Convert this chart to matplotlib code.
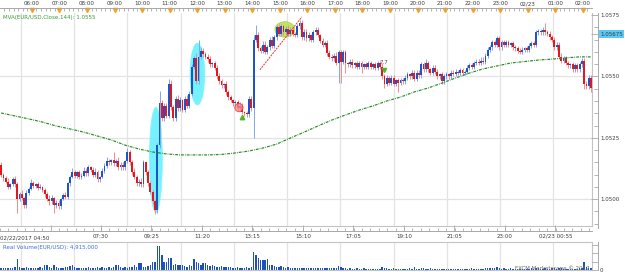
import numpy as np
import matplotlib
matplotlib.use("Agg")
import matplotlib.pyplot as plt
from matplotlib.patches import Ellipse
from matplotlib.lines import Line2D

# ---------------- data (prices in pips above 1.0500) ----------------
BASE = 1.0500
PIP = 0.0001
open0 = 14.0
close_pips = [
    10, 8.5, 7, 5, 6, 8, 6, 0, 2, 0.5,
    -2.5, 2.5, 4, 6.5, 5.5, 6, 4.5, 5, 3.7, 2,
    0, -1, 0.5, -2.5, -1.5, -3, 0, 1.5, 1, 6.5,
    9, 11, 9.5, 11, 9, 9.5, 11.5, 10.5, 13, 12,
    10, 11, 8, 9, 11.5, 13.5, 15.5, 15, 16, 14.5,
    15.5, 13, 14, 13, 15.5, 19, 15, 11, 9, 6.5,
    7, 6, 15, 11, 6.5, 3, -1, -4.5, 22, 39,
    33, 38, 34, 47, 37.5, 33, 41, 37, 40.5, 36.5,
    41, 38, 43, 54, 57.5, 48, 58, 60.5, 59, 58,
    57, 55, 55.5, 53.5, 50, 48, 46.5, 47, 43.5, 41.5,
    40.5, 39, 39.5, 37, 38, 35.5, 35, 34.5, 41, 37,
    65, 67, 61.5, 60.5, 63, 60, 62, 65, 62.5, 66,
    70, 67.5, 70.5, 68, 69.5, 67.5, 69, 67.5, 67, 70.5,
    72, 66, 68, 65.5, 67, 65, 68, 69, 67, 64.5,
    63, 63.5, 59.5, 58, 57.5, 58.5, 55.5, 60, 56, 60,
    55.5, 55, 56, 54.5, 55.5, 54, 55.5, 54, 55, 54,
    55.5, 54, 55, 53.5, 55.5, 54, 50, 47, 49.5, 47.5,
    49.5, 47, 48.5, 47.5, 48.5, 48, 49.5, 51, 50, 51.5,
    49, 51.5, 50.5, 55, 53, 55.5, 53, 51.5, 53.5, 52,
    50, 51, 48, 50, 51, 50, 51.5, 51, 52, 51.5,
    52.5, 51.5, 52, 53.5, 54.5, 54, 55.5, 56, 55.5, 56.5,
    56, 58.5, 61, 62, 64, 63, 65.5, 62, 64, 63,
    64, 63, 63.5, 62, 61.5, 60.5, 60, 61, 61.5, 61,
    62.5, 63.5, 63, 68, 68.5, 68, 69, 68, 67.5, 66,
    65, 62, 63, 58, 56.5, 57.5, 55.5, 54.5, 55, 53,
    54.5, 53, 55, 56.5, 47, 46, 49.5, 45.5,
]
up_wick = [
    1, 0.5, 1, 1.5, 0.5, 1, 1.5, 1, 1, 1.5,
    0.5, 1, 1, 1.5, 1, 0.5, 1, 1, 0.5, 1,
    1, 1.5, 1, 0.5, 1, 1, 0.5, 1, 1.5, 0.5,
    1, 1.5, 1, 0.5, 1, 1, 1.5, 1, 1, 0.5,
    1, 1.5, 1, 0.5, 1, 1, 1.5, 1, 0.5, 3,
    1, 1.5, 1, 1, 0.5, 2, 1, 1, 1.5, 1,
    1, 1.5, 1, 0.5, 1, 1, 0.5, 1, 1, 5,
    1.5, 1, 1, 2, 1.5, 1, 1, 1.5, 1, 0.5,
    1, 1.5, 1, 1, 1, 2, 7, 1.5, 1, 1,
    1, 1.5, 0.5, 1, 1, 1.5, 1, 0.5, 1, 1,
    1, 0.5, 1, 1, 1.5, 1, 0.5, 1, 1, 1,
    2, 4, 1, 1, 1.5, 1.5, 1, 1, 1.5, 1,
    1, 1.5, 1, 0.5, 1, 1.5, 1, 1, 0.5, 1,
    1, 1, 1.5, 1.5, 1, 0.5, 1, 1, 1, 0.5,
    1, 1, 1.5, 1.5, 1, 1, 1.5, 1, 1, 1,
    1, 0.5, 1, 1, 0.5, 1, 1, 1, 0.5, 1,
    1, 1, 0.5, 1, 1, 1, 1.5, 1, 1, 0.5,
    1, 1, 0.5, 1, 1, 1, 1, 1, 0.5, 1,
    1, 1, 1, 1, 1, 1.5, 1, 0.5, 1, 1,
    1, 0.5, 1, 1, 1, 0.5, 1, 1, 1, 0.5,
    1, 1, 0.5, 1, 1, 1, 1, 1, 1, 1.5,
    1.5, 1, 1, 1, 1, 1, 1, 1, 1, 1,
    1, 1, 0.5, 1, 1, 1, 1, 1, 0.5, 1,
    1, 1, 1, 1, 1, 1, 1, 3, 1, 1,
    1, 1, 1, 1, 1.5, 1, 1, 1, 0.5, 1,
    1, 1, 1, 1, 1, 1, 1, 1,
]
dn_wick = [
    1, 1, 0.5, 1, 1, 0.5, 1, 5.7, 1, 1,
    1, 1.2, 1, 0.5, 1, 1, 1, 0.5, 1, 1,
    1, 1.5, 1, 3.2, 1, 1, 1, 0.5, 1, 1,
    1, 0.5, 1, 1, 1, 1, 0.5, 1, 1, 1,
    1, 1, 1, 1, 0.5, 1, 1, 1, 1, 1,
    1, 1, 1, 1, 1, 1, 1, 1, 1, 1,
    1, 1, 1, 1, 1, 1, 1, 1.5, 1, 1,
    1, 1, 1, 1, 1, 1, 1, 1, 1, 1,
    1, 1, 1, 1, 1, 1, 1, 1, 1, 1,
    1, 1, 1, 1, 1, 1, 1, 1, 1, 1,
    1, 1, 1, 1, 1, 1, 1, 1, 1, 1,
    12, 1, 1, 1, 1, 1, 1, 1, 1, 1,
    1, 1, 1, 1, 1, 1, 1, 1, 1, 1,
    1, 1, 1, 1, 1, 1, 1, 1, 1, 1,
    1, 1, 1, 1, 1, 1, 1, 8.2, 8.5, 1,
    4, 1, 1, 1, 1, 1, 1, 2.5, 1, 1,
    1, 1, 1, 1, 1, 1, 1, 1.7, 1, 1,
    1, 1, 1, 3.8, 1, 1, 1, 1, 1, 1,
    1, 1, 1, 1, 1, 1, 1, 1, 1, 1,
    1, 1, 1, 1, 1, 1, 1, 1, 1, 1,
    1, 1, 1, 1, 1, 1, 1, 1, 1, 1,
    1, 1, 1, 1, 1, 1, 1, 1, 1, 1,
    1, 1, 1, 1, 1, 1, 1, 1, 1, 1,
    1, 1, 1, 1, 1, 1, 1, 1, 1, 1,
    1, 1, 1, 1, 1, 1, 1, 1, 1, 1,
    1, 1, 1, 1, 2, 1, 1, 2,
]
volume_m = [
    1.2, 1.2, 1.5, 1.2, 1.2, 1.5, 1.8, 6.6, 1.8, 1.5,
    1.2, 1.8, 1.5, 1.2, 1.2, 1.5, 1.2, 1.8, 1.5, 3.0,
    3.0, 1.8, 1.5, 3.0, 1.8, 1.2, 1.2, 1.5, 1.8, 1.8,
    2.4, 3.0, 1.8, 1.2, 1.5, 1.2, 1.2, 1.5, 1.8, 1.2,
    1.5, 1.2, 1.8, 1.5, 1.8, 1.5, 1.2, 1.8, 1.5, 1.8,
    3.0, 3.0, 1.8, 1.5, 1.8, 1.5, 1.8, 1.8, 3.0, 1.8,
    4.2, 4.2, 1.8, 1.8, 2.4, 3.0, 4.8, 4.8, 14.4, 14.4,
    9.0, 4.8, 4.8, 7.2, 7.2, 3.0, 3.6, 3.0, 3.0, 3.0,
    2.4, 1.8, 3.0, 2.4, 6.6, 4.8, 4.2, 3.0, 4.2, 4.2,
    3.0, 2.4, 3.0, 2.4, 1.8, 1.8, 2.4, 1.8, 1.8, 1.8,
    1.8, 1.2, 1.2, 1.8, 1.2, 1.5, 1.2, 1.8, 1.5, 1.8,
    10.8, 9.0, 7.2, 6.0, 6.0, 6.0, 6.6, 3.0, 3.0, 2.4,
    1.8, 1.8, 2.4, 1.8, 1.5, 1.8, 1.2, 1.5, 1.2, 1.5,
    1.5, 1.2, 1.5, 1.2, 1.5, 1.2, 1.2, 1.5, 1.2, 1.2,
    1.2, 1.5, 1.2, 1.2, 1.2, 1.5, 1.2, 2.4, 1.8, 1.5,
    1.2, 0.9, 1.2, 0.9, 0.9, 1.2, 0.9, 0.9, 1.2, 0.9,
    0.9, 0.9, 0.6, 0.9, 0.9, 0.9, 1.8, 1.5, 1.2, 0.9,
    0.9, 1.2, 0.9, 0.9, 0.6, 0.9, 0.9, 0.9, 1.2, 0.9,
    1.8, 0.9, 0.9, 1.5, 1.2, 0.9, 0.9, 1.2, 0.9, 0.9,
    0.9, 0.6, 0.9, 0.9, 0.9, 0.6, 0.9, 0.9, 0.6, 0.9,
    0.6, 0.9, 0.9, 0.6, 0.9, 1.2, 0.9, 0.9, 0.6, 0.9,
    0.9, 1.2, 1.2, 1.5, 1.5, 1.2, 1.8, 1.2, 0.9, 1.2,
    0.9, 0.9, 1.2, 0.9, 0.9, 0.9, 0.9, 0.6, 0.9, 0.9,
    0.9, 1.2, 0.9, 1.5, 1.2, 0.9, 0.9, 1.2, 0.9, 0.9,
    1.2, 1.2, 0.9, 1.5, 1.2, 0.9, 0.9, 0.9, 0.6, 0.9,
    0.9, 0.9, 1.2, 1.2, 4.8, 1.8, 1.5, 1.2,
]
ma_index = [0, 6, 12, 18, 24, 30, 36, 42, 48, 54, 60, 66, 72, 78, 84, 90, 96,
            102, 108, 114, 120, 126, 132, 138, 144, 150, 156, 162, 168, 174,
            180, 186, 192, 198, 204, 210, 216, 222, 228, 234, 240, 246, 252, 257]
ma_pips = [35.1, 33.9, 32.7, 31.4, 29.8, 28.6, 27.3, 25.7, 24.1, 22.0, 20.4,
           19.2, 18.4, 18.0, 18.0, 18.0, 18.2, 18.8, 19.6, 20.8, 22.4, 24.9,
           27.3, 29.8, 32.2, 34.3, 36.3, 38.0, 40.0, 41.6, 43.7, 45.3, 47.3,
           49.4, 51.4, 53.1, 54.3, 55.5, 56.1, 56.7, 57.1, 57.6, 58.0, 58.0]

price_ticks = [1.0500, 1.0525, 1.0550, 1.05675, 1.0575]
price_labels = ["1.0500", "1.0525", "1.0550", "1.05675", "1.0575"]
bottom_tick_pos = [8.65, 31.8, 55.0, 78.2, 101.4, 124.6, 147.8, 171.0, 194.2, 217.4, 240.6]
bottom_labels = ["", "07:30", "09:25", "11:20", "13:15", "15:10", "17:05",
                 "19:10", "21:05", "23:00", "02/23 00:55"]
top_labels = ["06:00", "07:00", "08:00", "09:00", "10:00", "11:00", "12:00",
              "13:00", "14:00", "15:00", "16:00", "17:00", "18:00", "19:00",
              "20:00", "21:00", "22:00", "23:00", "02/23", "01:00", "02:00"]
top_first_hour_pos = 13.4
candles_per_hour = 12

# ---------------- derived ----------------
closes = BASE + np.array(close_pips) * PIP
opens = np.concatenate([[BASE + open0 * PIP], closes[:-1]])
highs = np.maximum(opens, closes) + np.array(up_wick) * PIP
lows = np.minimum(opens, closes) - np.array(dn_wick) * PIP
N = len(closes)
idx = np.arange(N)
up = closes >= opens

W, H = 625, 272
def fx(px):
    return px / W
def fy(py):
    return 1 - py / H

plt.rcParams["font.family"] = ["DejaVu Sans"]
FS = 4.0
TXT = "#3a3a3a"
GRID = "#e3e3e3"
SPINE = "#a8a8a8"
BLUE = "#1b55c9"
RED = "#e8141e"
XL = (-0.5, 257.4)
YL = (1.04890, 1.05759)

fig = plt.figure(figsize=(W / 100, H / 100), dpi=100)

# main price panel
ax = fig.add_axes([0, fy(226), fx(592), (226 - 13) / H])
ax.set_xlim(*XL)
ax.set_ylim(*YL)
ax.set_xticks([])
ax.set_yticks([])
for s in ["left", "top"]:
    ax.spines[s].set_visible(False)
for s in ["right", "bottom"]:
    ax.spines[s].set_color("#c4c4c4")
    ax.spines[s].set_linewidth(0.8)
for p in bottom_tick_pos:
    ax.axvline(p, color=GRID, lw=0.9, zorder=0)
for p in [1.0500, 1.0525, 1.0550]:
    ax.axhline(p, color=GRID, lw=0.9, zorder=0)

# annotations (drawn below candles)
ax.add_patch(Ellipse((67.4, BASE + 16.0 * PIP), 5.7, 43 * PIP,
                     facecolor="#5ef0ff", edgecolor="#7ff4ff", lw=0.5, alpha=0.85, zorder=1))
ax.add_patch(Ellipse((85.5, BASE + 51.0 * PIP), 6.5, 25.3 * PIP,
                     facecolor="#5ef0ff", edgecolor="#7ff4ff", lw=0.5, alpha=0.85, zorder=1))
ax.add_patch(Ellipse((123.6, BASE + 69.2 * PIP), 8.7, 6.3 * PIP,
                     facecolor="#b8e04a", edgecolor="#9ccc30", lw=0.5, alpha=0.85, zorder=1))
ax.add_patch(Ellipse((103.6, BASE + 37.3 * PIP), 3.6, 3.4 * PIP,
                     facecolor="#f58a8a", edgecolor="#e83030", lw=0.6, alpha=0.8, zorder=4))
ax.add_line(Line2D([112.7, 131.0], [BASE + 52.7 * PIP, BASE + 74.3 * PIP],
                   color="#ff2a2a", lw=0.7, ls=(0, (2, 1)), zorder=4))

# candles
ax.vlines(idx[up], lows[up], highs[up], color="#7fa7ea", lw=0.7, zorder=2)
ax.vlines(idx[~up], lows[~up], highs[~up], color="#f28c8c", lw=0.7, zorder=2)
body_h = np.maximum(np.abs(closes - opens), 0.35 * PIP)
body_b = np.minimum(opens, closes)
ax.bar(idx[up], body_h[up], bottom=body_b[up], width=0.82, color=BLUE, lw=0, zorder=3)
ax.bar(idx[~up], body_h[~up], bottom=body_b[~up], width=0.82, color=RED, lw=0, zorder=3)

# moving average
ax.plot(ma_index, BASE + np.array(ma_pips) * PIP, color="#248a24", lw=0.85,
        dashes=[2.4, 0.9, 0.7, 0.9], zorder=3)

# small markers
ax.plot([104.9], [BASE + 33.3 * PIP], marker="^", color="#4fb52a", ms=3.2, zorder=5)
ax.plot([166.7], [BASE + 52.6 * PIP], marker="v", color="#4fb52a", ms=3.0, zorder=5)
ax.text(166.7, BASE + 55.6 * PIP, "7.7", fontsize=FS, color="#505050",
        ha="center", va="center", zorder=5)

# top time strip
axt = fig.add_axes([0, fy(13), fx(592), 5 / H])
axt.set_xlim(*XL)
axt.set_ylim(0, 1)
for s in ["left", "right", "bottom"]:
    axt.spines[s].set_visible(False)
axt.spines["top"].set_color(SPINE)
axt.spines["top"].set_linewidth(0.7)
axt.set_yticks([])
hour_pos = [top_first_hour_pos + candles_per_hour * k for k in range(len(top_labels))]
axt.xaxis.tick_top()
axt.set_xticks(hour_pos)
axt.set_xticklabels(top_labels, fontsize=FS, color=TXT)
axt.set_xticks(np.arange(top_first_hour_pos - 12, XL[1], 2), minor=True)
axt.tick_params(axis="x", which="both", direction="in", colors=SPINE,
                labelcolor=TXT, pad=1.2, width=0.6)
axt.tick_params(axis="x", which="major", length=2.5)
axt.tick_params(axis="x", which="minor", length=2.5)
axt.plot(hour_pos, [0.55] * len(hour_pos), ls="none", marker="v", color="#f5a31e",
         ms=3.0, clip_on=False)
axt.patch.set_alpha(0)

# bottom time strip
axb = fig.add_axes([0, fy(231), fx(592), 5 / H])
axb.set_xlim(*XL)
axb.set_ylim(0, 1)
for s in ["left", "right", "top"]:
    axb.spines[s].set_visible(False)
axb.spines["bottom"].set_color(SPINE)
axb.spines["bottom"].set_linewidth(0.7)
axb.set_yticks([])
axb.set_xticks(bottom_tick_pos)
axb.set_xticklabels(bottom_labels, fontsize=FS, color=TXT)
axb.set_xticks(np.arange(bottom_tick_pos[0] - 23.2, XL[1], 23.2 / 6), minor=True)
axb.tick_params(axis="x", which="both", direction="in", colors=SPINE,
                labelcolor=TXT, pad=2.0, width=0.6)
axb.tick_params(axis="x", which="major", length=4.5)
axb.tick_params(axis="x", which="minor", length=2.5)
axb.patch.set_alpha(0)
fig.text(fx(0.5), fy(237.5), "02/22/2017 04:50", fontsize=FS, color=TXT,
         ha="left", va="center")

# right price strip
axr = fig.add_axes([fx(592), fy(228), fx(598) - fx(592), (228 - 13) / H])
axr.set_xlim(0, 1)
axr.set_ylim(YL[0] - 2 * 0.0025 / 61.3, YL[1])
for s in ["left", "top", "bottom"]:
    axr.spines[s].set_visible(False)
axr.spines["right"].set_color(SPINE)
axr.spines["right"].set_linewidth(0.7)
axr.set_xticks([])
axr.yaxis.tick_right()
axr.set_yticks(price_ticks)
axr.set_yticklabels(price_labels, fontsize=FS, color=TXT)
axr.set_yticks(np.arange(1.0490, 1.0576, 0.0005), minor=True)
axr.tick_params(axis="y", which="both", direction="in", colors=SPINE,
                labelcolor=TXT, pad=1.5, width=0.6)
axr.tick_params(axis="y", which="major", length=5)
axr.tick_params(axis="y", which="minor", length=3)
for lab in axr.get_yticklabels():
    if lab.get_text() == "1.05675":
        lab.set_bbox(dict(facecolor="#5cc9f4", edgecolor="none", pad=0.8))
axr.patch.set_alpha(0)

# volume panel
axv = fig.add_axes([0, fy(270), fx(592), 28 / H])
axv.set_xlim(*XL)
axv.set_ylim(0, 16.8)
axv.set_xticks([])
axv.set_yticks([])
axv.spines["left"].set_visible(False)
for s in ["top", "right", "bottom"]:
    axv.spines[s].set_color("#c4c4c4")
    axv.spines[s].set_linewidth(0.8)
for p in bottom_tick_pos:
    axv.axvline(p, color=GRID, lw=0.9, zorder=0)
axv.bar(idx, volume_m, width=0.62, color="#1d50b8", lw=0, zorder=2)
fig.text(fx(3), fy(248), "Real Volume(EUR/USD): 4,915,000", fontsize=FS,
         color="#3d6fd0", ha="left", va="center")
fig.text(fx(590), fy(268), "FXCM Marketscope \u00a9 2017", fontsize=FS,
         color="#6a6a6a", ha="right", va="center", zorder=5)

axvr = fig.add_axes([fx(592), fy(270), fx(598) - fx(592), 28 / H])
axvr.set_xlim(0, 1)
axvr.set_ylim(0, 16.8)
for s in ["left", "top", "bottom"]:
    axvr.spines[s].set_visible(False)
axvr.spines["right"].set_color(SPINE)
axvr.spines["right"].set_linewidth(0.7)
axvr.set_xticks([])
axvr.yaxis.tick_right()
axvr.set_yticks([0, 5, 10, 15])
axvr.set_yticklabels(["0", "", "", ""], fontsize=FS, color=TXT)
axvr.tick_params(axis="y", direction="in", colors=SPINE, labelcolor=TXT,
                 length=4, pad=1.5, width=0.6)
axvr.patch.set_alpha(0)

fig.text(fx(3), fy(17), "MVA(EUR/USD,Close,144): 1.0555", fontsize=FS,
         color="#3a9a3a", ha="left", va="center")

fig.savefig("out.png", dpi=100, facecolor="white")
